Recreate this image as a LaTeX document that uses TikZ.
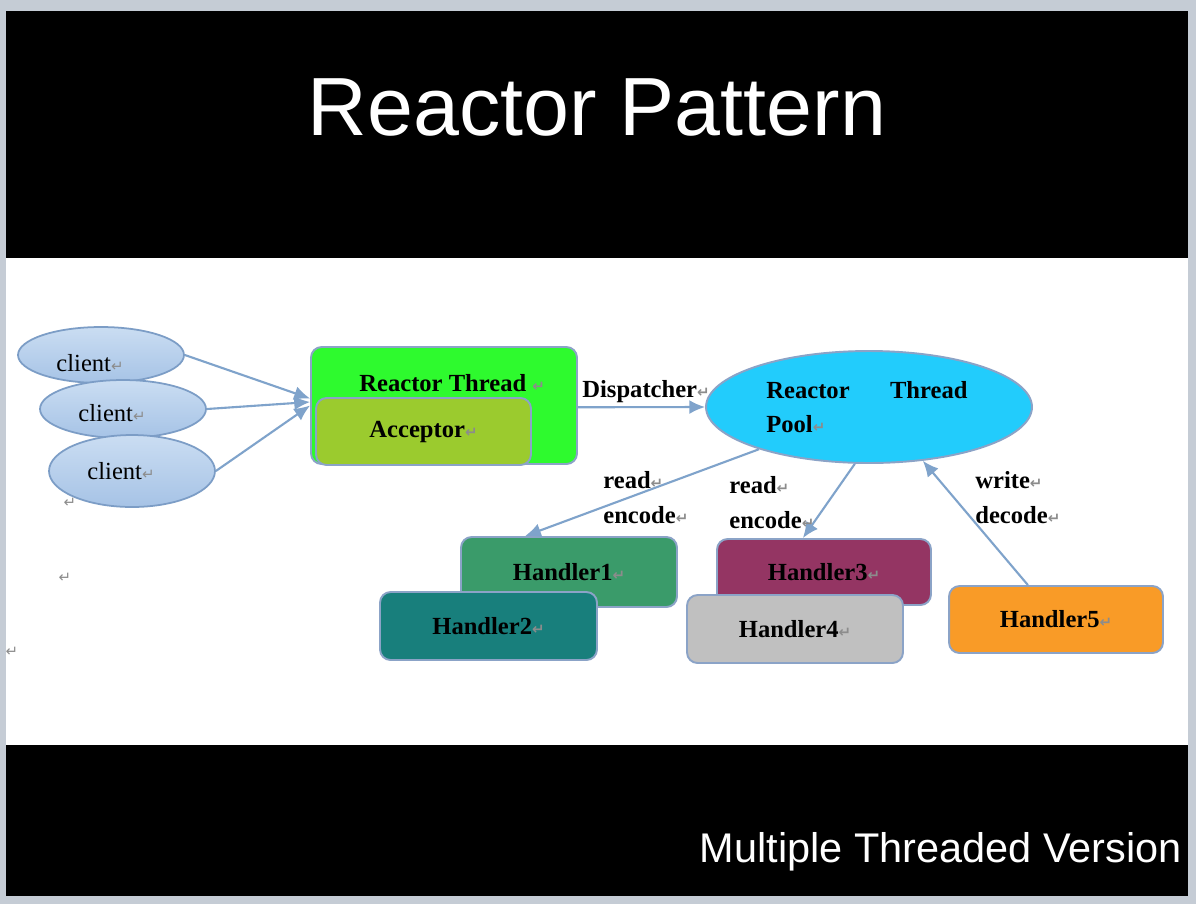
\documentclass[tikz,border=0pt]{standalone}
\usepackage{fontspec}
\setmainfont{Liberation Serif}
\newfontfamily\slidefont{Liberation Sans}
\newfontfamily\symfont{DejaVu Sans}
\usetikzlibrary{shapes.geometric,arrows.meta}
\definecolor{frame}{HTML}{C5CCD5}
\definecolor{clienttop}{HTML}{CADDF2}
\definecolor{clientbot}{HTML}{A6C3E6}
\definecolor{clientline}{HTML}{7C9DC6}
\definecolor{boxline}{HTML}{8BA3C7}
\definecolor{arrowblue}{HTML}{7FA3CB}
\definecolor{rtgreen}{HTML}{2EFA2E}
\definecolor{accgreen}{HTML}{9BCB2E}
\definecolor{poolcyan}{HTML}{22CCFC}
\definecolor{hgreen}{HTML}{3A9B6A}
\definecolor{hteal}{HTML}{187F7C}
\definecolor{hplum}{HTML}{943563}
\definecolor{hgray}{HTML}{C0C0C0}
\definecolor{horange}{HTML}{F99B27}
\definecolor{retgray}{HTML}{8C8C8C}
\newcommand\ret{{\symfont\fontsize{8.5}{8.5}\selectfont\color{retgray}↵}}

\begin{document}
\begin{tikzpicture}[x=0.02cm,y=-0.02cm,
    client/.style={ellipse,draw=clientline,line width=1pt,top color=clienttop,bottom color=clientbot,minimum width=3.32cm},
    box/.style={rectangle,rounded corners=6pt,draw=boxline,line width=1.1pt,font=\bfseries\fontsize{14}{16}\selectfont},
    conn/.style={-{Latex[length=9pt,width=8pt]},draw=arrowblue,line width=1.2pt},
    lbl/.style={font=\bfseries\fontsize{14}{16}\selectfont,inner sep=0pt},
    plain/.style={font=\fontsize{14}{16}\selectfont,inner sep=0pt}]
  \fill[frame] (0,0) rectangle (1196,904);
  \fill[black] (6,11) rectangle (1188,896);
  \fill[white] (6,258) rectangle (1188,745);
  \useasboundingbox (0,0) rectangle (1196,904);
  \node[anchor=base,white,inner sep=0pt,font=\slidefont\fontsize{47}{50}\selectfont] (title) at (597,135) {Reactor Pattern};
  \node[anchor=base east,white,inner sep=0pt,font=\slidefont\fontsize{23.6}{26}\selectfont] (sub) at (1182,862) {Multiple Threaded Version};

  \node[client,minimum height=1.12cm] (c1) at (101,355) {};
  \node[client,minimum height=1.16cm] (c2) at (123,409) {};
  \node[client,minimum height=1.44cm] (c3) at (132,471) {};
  \node[plain] (c1t) at (90,363) {client\ret};
  \node[plain] (c2t) at (112,413) {client\ret};
  \node[plain] (c3t) at (121,471) {client\ret};

  \node[box,fill=rtgreen,minimum width=5.32cm,minimum height=2.34cm] (rt) at (444,405.5) {};
  \node[lbl,anchor=west] (rtt) at (359,383) {Reactor Thread \ret};
  \node[box,fill=accgreen,minimum width=4.3cm,minimum height=1.34cm] (acc) at (423.5,431.5) {Acceptor\ret};

  \draw[conn] (c1.east) -- ([yshift=4pt]rt.west);
  \draw[conn] (c2.east) -- ([yshift=2pt]rt.west);
  \draw[conn] (c3.east) -- (rt.west);

  \node[ellipse,draw=boxline,fill=poolcyan,line width=1.1pt,minimum width=6.52cm,minimum height=2.24cm] (pool) at (869,407) {};
  \node[lbl,anchor=west,align=left,font=\bfseries\fontsize{14}{19.8}\selectfont] (poolt) at (766,407) {Reactor\hspace{23pt}Thread\\Pool\ret};
  \draw[conn] ([yshift=-1pt]rt.east) -- (pool.west);
  \node[lbl,anchor=west] (disp) at (582,392) {Dispatcher\ret};

  \node[box,fill=hgreen,minimum width=4.32cm,minimum height=1.4cm] (h1) at (569,572) {Handler1\ret};
  \node[box,fill=hteal,minimum width=4.34cm,minimum height=1.36cm] (h2) at (488.5,626) {Handler2\ret};
  \node[box,fill=hplum,minimum width=4.28cm,minimum height=1.32cm] (h3) at (824,572) {Handler3\ret};
  \node[box,fill=hgray,minimum width=4.32cm,minimum height=1.36cm] (h4) at (795,629) {Handler4\ret};
  \node[box,fill=horange,minimum width=4.28cm,minimum height=1.34cm] (h5) at (1056,619.5) {Handler5\ret};

  \draw[conn] (pool.201) -- ([xshift=-25pt]h1.north);
  \draw[conn] (pool.256) -- ([xshift=-12pt]h3.north);
  \draw[conn] ([xshift=-16pt]h5.north) -- (pool.-45);

  \node[lbl,anchor=west] (rd1) at (603,480) {read\ret};
  \node[lbl,anchor=west] (en1) at (603,515) {encode\ret};
  \node[lbl,anchor=west] (rd2) at (729,485) {read\ret};
  \node[lbl,anchor=west] (en2) at (729,520) {encode\ret};
  \node[lbl,anchor=west] (wr) at (975,480) {write\ret};
  \node[lbl,anchor=west] (de) at (975,515) {decode\ret};

  \node[inner sep=0pt] (p1) at (70,503) {\ret};
  \node[inner sep=0pt] (p2) at (65,578) {\ret};
  \node[inner sep=0pt] (p3) at (12,652) {\ret};
\end{tikzpicture}
\end{document}
